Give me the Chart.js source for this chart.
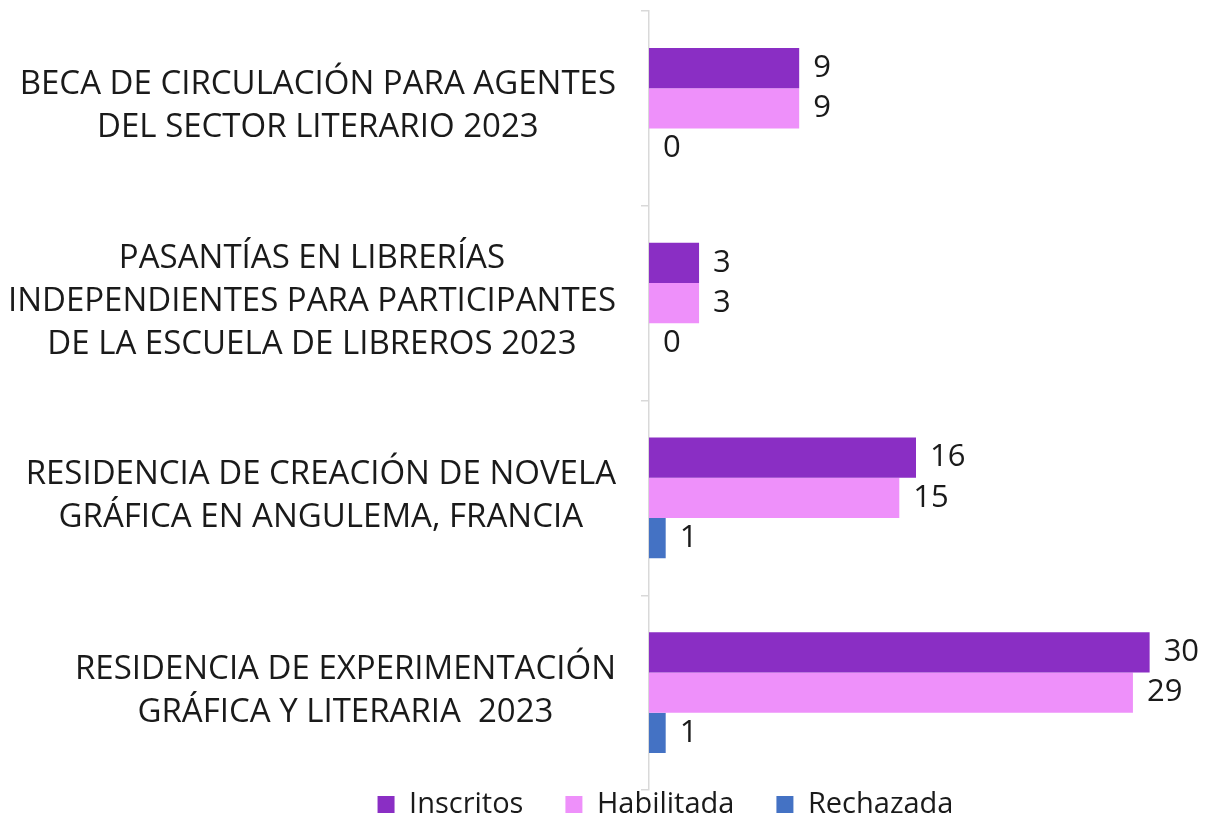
<!DOCTYPE html>
<html>
<head>
<meta charset="utf-8">
<script src="https://cdn.jsdelivr.net/npm/chart.js@4/dist/chart.umd.min.js"></script>
<style>
html,body{margin:0;padding:0;background:#fff;}
#wrap{width:1206px;height:816px;position:relative;}
</style>
</head>
<body>
<div id="wrap"><canvas id="c" width="1206" height="816"></canvas></div>
<script>
const categories = [
  ["BECA DE CIRCULACIÓN PARA AGENTES", "DEL SECTOR LITERARIO 2023"],
  ["PASANTÍAS EN LIBRERÍAS", "INDEPENDIENTES PARA PARTICIPANTES", "DE LA ESCUELA DE LIBREROS 2023"],
  ["RESIDENCIA DE CREACIÓN DE NOVELA", "GRÁFICA EN ANGULEMA, FRANCIA"],
  ["RESIDENCIA DE EXPERIMENTACIÓN", "GRÁFICA Y LITERARIA  2023"]
];
const seriesNames = ["Inscritos", "Habilitada", "Rechazada"];
const inscritos = [9, 3, 16, 30];
const habilitada = [9, 3, 15, 29];
const rechazada = [0, 0, 1, 1];
const seriesColors = ["#8A2EC4", "#EE90FA", "#4472C4"];

const FONT = "'Open Sans'";
const LEG_PAD = 42;

const yLabelPlugin = {
  id: 'yLabels',
  afterDraw(chart) {
    const ys = chart.scales.y;
    const ctx = chart.ctx;
    ctx.save();
    ctx.font = "33px " + FONT;
    ctx.fillStyle = "#1a1a1a";
    ctx.textAlign = "center";
    ctx.textBaseline = "middle";
    const lh = 43;
    const rightEdge = ys.right - 33;
    categories.forEach((lines, i) => {
      const yc = ys.getPixelForTick(i);
      let maxw = 0;
      lines.forEach(l => { maxw = Math.max(maxw, ctx.measureText(l).width); });
      const cx = rightEdge - maxw / 2;
      const y0 = yc - (lines.length - 1) * lh / 2 - 2;
      lines.forEach((l, k) => ctx.fillText(l, cx, y0 + k * lh));
    });
    ctx.restore();
  }
};

const valueLabelPlugin = {
  id: 'valueLabels',
  afterDatasetsDraw(chart) {
    const ctx = chart.ctx;
    ctx.save();
    ctx.font = "31px " + FONT;
    ctx.fillStyle = "#1a1a1a";
    ctx.textAlign = "left";
    ctx.textBaseline = "middle";
    chart.data.datasets.forEach((ds, di) => {
      const meta = chart.getDatasetMeta(di);
      meta.data.forEach((bar, i) => {
        ctx.fillText(String(ds.data[i]), bar.x + 14, bar.y);
      });
    });
    ctx.restore();
  }
};

const legendPatch = {
  id: 'legendPatch',
  beforeLayout(chart) {
    const lg = chart.legend;
    if (lg && !lg._patched) {
      const f = lg.fit.bind(lg);
      lg.fit = function () { f(); this.height = 26; };
      lg._patched = true;
    }
  },
  afterLayout(chart) {
    const lg = chart.legend;
    if (lg) { lg.left += 74; lg.right += 74; lg.top -= LEG_PAD; lg.bottom = 816; }
  }
};

new Chart(document.getElementById('c'), {
  type: 'bar',
  data: {
    labels: categories,
    datasets: [
      { label: seriesNames[0], data: inscritos, backgroundColor: seriesColors[0] },
      { label: seriesNames[1], data: habilitada, backgroundColor: seriesColors[1] },
      { label: seriesNames[2], data: rechazada, backgroundColor: seriesColors[2] }
    ]
  },
  options: {
    indexAxis: 'y',
    responsive: false,
    animation: false,
    layout: { padding: { top: 11, right: 23, left: 0, bottom: 0 } },
    datasets: { bar: { categoryPercentage: 0.62, barPercentage: 1.0 } },
    scales: {
      x: { display: false, min: 0, max: 32 },
      y: {
        grid: { offset: true, drawOnChartArea: false, tickLength: 8, color: '#d9d9d9', lineWidth: 1.5 },
        border: { color: '#d9d9d9', width: 1.5 },
        ticks: { display: false },
        afterFit(scale) { scale.width = 649; }
      }
    },
    plugins: {
      tooltip: { enabled: false },
      legend: {
        position: 'bottom',
        labels: {
          font: { family: "Open Sans", size: 29 },
          color: '#1a1a1a',
          boxWidth: 17, boxHeight: 17,
          padding: LEG_PAD
        }
      }
    }
  },
  plugins: [yLabelPlugin, valueLabelPlugin, legendPatch]
});
</script>
</body>
</html>
